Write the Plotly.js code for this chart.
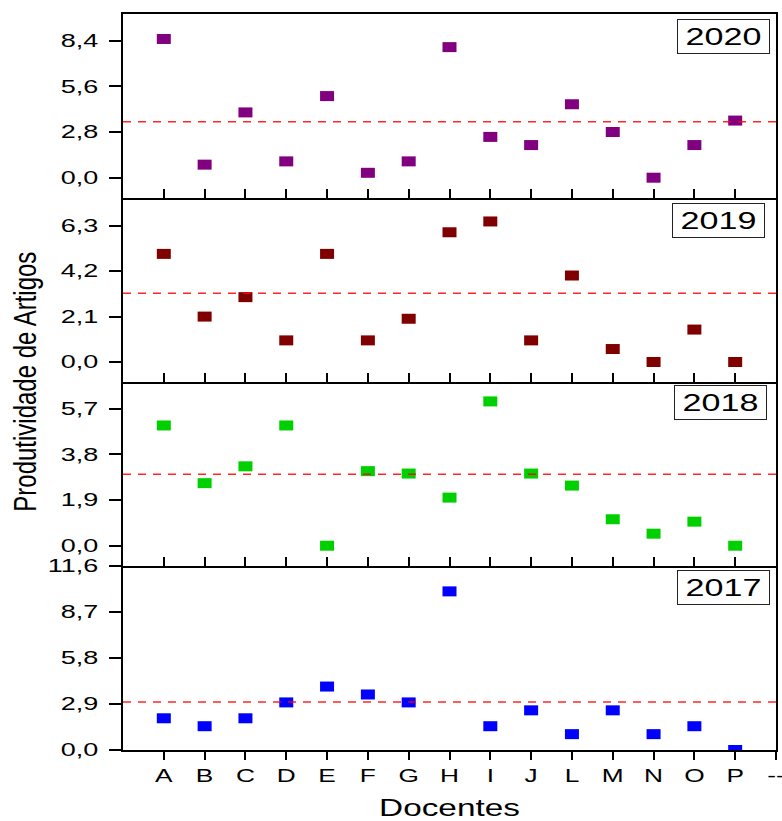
<!DOCTYPE html>
<html><head><meta charset="utf-8">
<script src="https://cdn.plot.ly/plotly-3.0.1.min.js"></script>
<style>html,body{margin:0;padding:0;background:#fff}</style>
</head><body><div id="chart" style="width:782px;height:821px"></div>
<script>
// ---- data ----
const docentes = ["A","B","C","D","E","F","G","H","I","J","L","M","N","O","P"];
const xCategories = ["A","B","C","D","E","F","G","H","I","J","L","M","N","O","P","--"];
const years = ["2017","2018","2019","2020"];
const prod2017 = [2.0,1.5,2.0,3.0,4.0,3.5,3.0,10.0,1.5,2.5,1.0,2.5,1.0,1.5,0.0];
const prod2018 = [5.0,2.6,3.3,5.0,0.0,3.1,3.0,2.0,6.0,3.0,2.5,1.1,0.5,1.0,0.0];
const prod2019 = [5.0,2.1,3.0,1.0,5.0,1.0,2.0,6.0,6.5,1.0,4.0,0.6,0.0,1.5,0.0];
const prod2020 = [8.5,0.8,4.0,1.0,5.0,0.3,1.0,8.0,2.5,2.0,4.5,2.8,0.0,2.0,3.5];
const refLine = [3.03, 2.97, 3.18, 3.43];
const tickVals2017 = [0, 2.9, 5.8, 8.7, 11.6];
const tickText2017 = ["0,0","2,9","5,8","8,7","11,6"];
const tickVals2018 = [0, 1.9, 3.8, 5.7];
const tickText2018 = ["0,0","1,9","3,8","5,7"];
const tickVals2019 = [0, 2.1, 4.2, 6.3];
const tickText2019 = ["0,0","2,1","4,2","6,3"];
const tickVals2020 = [0, 2.8, 5.6, 8.4];
const tickText2020 = ["0,0","2,8","5,6","8,4"];

const series = [prod2017, prod2018, prod2019, prod2020];
const colors = ["#0000ff", "#00d000", "#800000", "#800080"];
const tickVals = [tickVals2017, tickVals2018, tickVals2019, tickVals2020];
const tickText = [tickText2017, tickText2018, tickText2019, tickText2020];
const ranges = [[0, 11.6], [-0.844, 6.807], [-0.925, 7.585], [-1.244, 10.03]];
const boxPos = [[0.9189, 0.2204], [0.9155, 0.4723], [0.9126, 0.72], [0.9189, 0.9701]];

const FONT = "Liberation Sans, Arial, sans-serif";
const traces = [];
const layout = {
  width: 782, height: 821,
  margin: {l: 123, r: 6, t: 14, b: 71},
  paper_bgcolor: "#fff", plot_bgcolor: "#fff",
  showlegend: false,
  font: {family: FONT, color: "#000"},
  shapes: [], annotations: []
};

for (let i = 0; i < 4; i++) {
  const sfx = i === 0 ? "" : String(i + 1);
  traces.push({
    type: "scatter", mode: "markers",
    x: docentes, y: series[i],
    xaxis: "x" + sfx, yaxis: "y" + sfx,
    marker: {symbol: "line-ew", size: 10, color: colors[i], line: {color: colors[i], width: 10}},
    hoverinfo: "skip"
  });
  const xa = {
    domain: [0, 1], anchor: "y" + sfx,
    type: "category", categoryorder: "array", categoryarray: xCategories,
    range: [-1, 15],
    showline: true, linewidth: 2, linecolor: "#000",
    tickwidth: 2, tickcolor: "#000",
    showgrid: false, zeroline: false, fixedrange: true
  };
  if (i === 0) {
    xa.ticks = "outside"; xa.ticklen = 8;
    xa.tickfont = {size: 18, family: FONT, color: "#000"};
    xa.ticklabelstandoff = 0;
    xa.title = {text: "Docentes", font: {size: 23, family: FONT, color: "#000"}, standoff: 20};
  } else {
    xa.matches = "x";
    xa.ticks = "inside"; xa.ticklen = 9;
    xa.showticklabels = false;
  }
  if (i === 3) xa.mirror = true;
  layout["xaxis" + sfx] = xa;
  layout["yaxis" + sfx] = {
    domain: [i * 0.25, (i + 1) * 0.25], anchor: "x" + sfx,
    range: ranges[i], tickmode: "array", tickvals: tickVals[i], ticktext: tickText[i],
    ticks: "outside", ticklen: 12, tickwidth: 2, tickcolor: "#000",
    showline: true, mirror: true, linewidth: 2, linecolor: "#000",
    showgrid: false, zeroline: false, fixedrange: true,
    tickfont: {size: 18, family: FONT, color: "#000"},
    ticklabelstandoff: 7
  };
  layout.shapes.push({
    type: "line", xref: "paper", yref: "y" + sfx,
    x0: 0, x1: 1.02, y0: refLine[i], y1: refLine[i],
    line: {color: "rgba(255,0,0,0.85)", width: 1.5, dash: "8px,7px"}
  });
  layout.annotations.push({
    xref: "paper", yref: "paper", x: boxPos[i][0], y: boxPos[i][1],
    xanchor: "center", yanchor: "middle", showarrow: false,
    text: years[i], font: {size: 24, family: FONT, color: "#000"},
    width: 91, height: 33, borderpad: 0, borderwidth: 1, bordercolor: "#222", bgcolor: "#fff"
  });
}
layout.annotations.push({
  xref: "paper", yref: "paper", x: -0.152, y: 0.5,
  xanchor: "center", yanchor: "middle", showarrow: false, textangle: -90,
  text: "Produtividade de Artigos", font: {size: 24, family: FONT, color: "#000"}
});

function stretch(el, sx, sy, anchor) {
  const bb = el.getBBox();
  let cx = bb.x + bb.width / 2;
  if (anchor === "end") cx = bb.x + bb.width;
  const cy = bb.y + bb.height / 2;
  const old = el.getAttribute("transform") || "";
  el.setAttribute("transform", old + " translate(" + cx + "," + cy + ") scale(" + sx + "," + sy + ") translate(" + (-cx) + "," + (-cy) + ")");
}

const gd = document.getElementById("chart");
Plotly.newPlot(gd, traces, layout, {staticPlot: true, displayModeBar: false}).then(function () {
  gd.querySelectorAll("g.ytick text, g.y2tick text, g.y3tick text, g.y4tick text").forEach(function (el) { stretch(el, 1.5, 1, "end"); });
  gd.querySelectorAll("g.xtick text").forEach(function (el) { stretch(el, 1.46, 1, "middle"); });
  gd.querySelectorAll("text.xtitle").forEach(function (el) { stretch(el, 1.45, 1, "middle"); });
  gd.querySelectorAll("text.annotation-text").forEach(function (el) {
    if (el.textContent.indexOf("Produtividade") >= 0) stretch(el, 1, 1.33, "middle");
    else stretch(el, 1.42, 1, "middle");
  });
});
</script>
</body></html>
